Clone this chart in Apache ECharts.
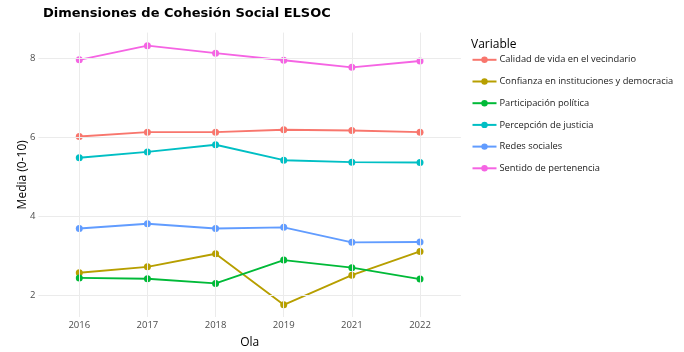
<!DOCTYPE html>
<html><head><meta charset="utf-8">
<script src="https://cdn.jsdelivr.net/npm/echarts@6/dist/echarts.min.js"></script>
<style>html,body{margin:0;padding:0;background:#fff}#c{width:684px;height:352px}</style>
</head><body><div id="c"></div>
<script>
var olas = ['2016', '2017', '2018', '2019', '2021', '2022'];
var calidad = [6.02, 6.13, 6.13, 6.19, 6.17, 6.13];
var confianza = [2.57, 2.72, 3.05, 1.76, 2.51, 3.11];
var participacion = [2.44, 2.42, 2.30, 2.89, 2.70, 2.41];
var percepcion = [5.48, 5.63, 5.81, 5.42, 5.37, 5.36];
var redes = [3.69, 3.81, 3.69, 3.72, 3.34, 3.35];
var sentido = [7.96, 8.32, 8.13, 7.95, 7.77, 7.93];
var yTicks = [2, 4, 6, 8];

var seriesDefs = [
  ['Calidad de vida en el vecindario', calidad, '#F8766D'],
  ['Confianza en instituciones y democracia', confianza, '#B79F00'],
  ['Participación política', participacion, '#00BA38'],
  ['Percepción de justicia', percepcion, '#00BFC4'],
  ['Redes sociales', redes, '#619CFF'],
  ['Sentido de pertenencia', sentido, '#F564E3']
];
var FONT = 'Open Sans';
function pts(arr){ return arr.map(function(v,i){ return [i, v]; }); }

var series = [{
  name: '_grid', type: 'line', data: pts(calidad), z: 0, silent: true,
  showSymbol: false, symbol: 'none', lineStyle: {opacity: 0}, tooltip: {show: false},
  markLine: {
    silent: true, symbol: 'none', animation: false, label: {show: false},
    lineStyle: {color: '#ebebeb', width: 1, type: 'solid'},
    data: olas.map(function(o,i){ return {xAxis: i}; }).concat(yTicks.map(function(t){ return {yAxis: t}; }))
  }
}];
seriesDefs.forEach(function(d){
  series.push({
    name: d[0], type: 'line', data: pts(d[1]), z: 3,
    symbol: 'circle', symbolSize: 7,
    itemStyle: {color: d[2]}, lineStyle: {color: d[2], width: 1.9},
    animation: false
  });
});

var chart = echarts.init(document.getElementById('c'), null, {renderer: 'canvas'});
chart.setOption({
  backgroundColor: '#fff',
  animation: false,
  title: [
    {text: 'Dimensiones de Cohesión Social ELSOC', left: 38, top: 2,
     textStyle: {fontFamily: 'DejaVu Sans', fontWeight: 'bold', fontSize: 13, color: '#000'}},
    {text: 'Variable', left: 466, top: 34,
     textStyle: {fontFamily: FONT, fontWeight: 'normal', fontSize: 12, color: '#000'}}
  ],
  legend: {
    orient: 'vertical', left: 466.5, top: 50.3,
    itemWidth: 24, itemHeight: 8, itemGap: 12.7,
    data: seriesDefs.map(function(d){ return d[0]; }),
    textStyle: {fontFamily: FONT, fontSize: 9.3, color: '#1a1a1a', padding: [0,0,0,-2]}
  },
  grid: {left: 38.4, right: 223.1, top: 32.6, bottom: 35, containLabel: false, outerBoundsMode: 'none'},
  xAxis: {
    type: 'value', min: -0.6, max: 5.6, interval: 0.2,
    name: 'Ola', nameLocation: 'middle', nameGap: 20, nameMoveOverlap: false,
    nameTextStyle: {fontFamily: FONT, fontSize: 12, color: '#000'},
    axisLine: {show: false}, axisTick: {show: false}, splitLine: {show: false},
    axisLabel: {
      fontFamily: FONT, fontSize: 9.5, color: '#4d4d4d', margin: 3,
      showMinLabel: true, showMaxLabel: true,
      formatter: function(v){
        var r = Math.round(v);
        if (Math.abs(v - r) < 1e-6 && r >= 0 && r < olas.length) return olas[r];
        return '';
      }
    }
  },
  yAxis: {
    type: 'value', min: 1.45, max: 8.65, interval: 0.05,
    name: 'Media (0-10)', nameLocation: 'middle', nameGap: 9.5, nameRotate: 90, nameMoveOverlap: false,
    nameTextStyle: {fontFamily: FONT, fontSize: 12, color: '#000'},
    axisLine: {show: false}, axisTick: {show: false}, splitLine: {show: false},
    axisLabel: {
      fontFamily: FONT, fontSize: 9.5, color: '#4d4d4d', margin: 3,
      formatter: function(v){
        for (var k = 0; k < yTicks.length; k++) {
          if (Math.abs(v - yTicks[k]) < 1e-6) return String(yTicks[k]);
        }
        return '';
      }
    }
  },
  series: series
});
</script></body></html>
